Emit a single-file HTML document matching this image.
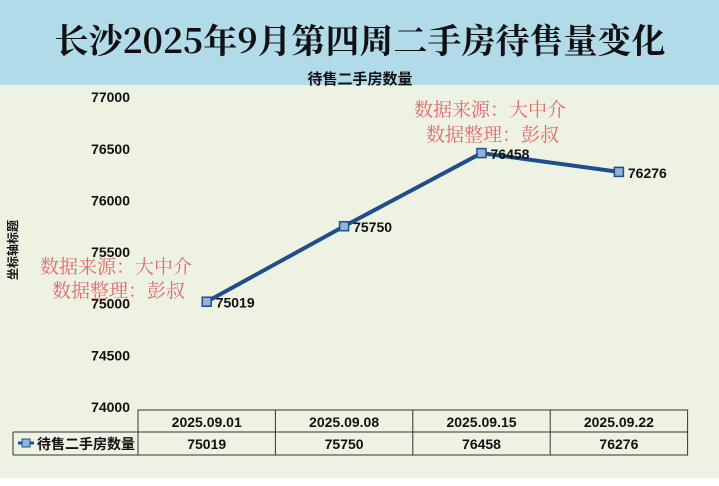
<!DOCTYPE html>
<html><head><meta charset="utf-8"><style>
body{margin:0;width:719px;height:481px;background:#fff;overflow:hidden;font-family:"Liberation Sans","Noto Sans CJK SC",sans-serif}
</style></head><body>
<svg width="719" height="481" xmlns="http://www.w3.org/2000/svg">
<rect x="0" y="0" width="719" height="478" fill="#eef2e3"/>
<rect x="0" y="0" width="719" height="85" fill="#b2dbe9"/>
<text x="360" y="53" text-anchor="middle" font-size="34" font-family="'Noto Serif CJK SC',serif" font-weight="bold" fill="#111">长沙2025年9月第四周二手房待售量变化</text>
<text x="360" y="84" text-anchor="middle" font-size="15" font-weight="bold" fill="#111">待售二手房数量</text>
<text transform="translate(17,250) rotate(-90)" text-anchor="middle" font-size="12" font-weight="bold" fill="#111">坐标轴标题</text>
<g id="yticks"></g>
<g id="table"></g>
<polyline id="line" fill="none" stroke="#1f4e8c" stroke-width="4"/>
<g id="pts"></g>
<g font-family="'Noto Serif CJK SC',serif" font-size="19" fill="#e06a6a">
<text x="40" y="273">数据来源：大中介</text>
<text x="52" y="297">数据整理：彭叔</text>
<text x="414" y="116">数据来源：大中介</text>
<text x="426" y="141">数据整理：彭叔</text>
</g>
</svg>
<script>
const categories=["2025.09.01","2025.09.08","2025.09.15","2025.09.22"];
const values=[75019,75750,76458,76276];
const yTicks=[74000,74500,75000,75500,76000,76500,77000];
const ns="http://www.w3.org/2000/svg";
const y=v=>407-(v-74000)*0.1033;
const colL=138,colW=137.4;
const x=i=>colL+colW*(i+0.5);
function mk(t,a,p){const e=document.createElementNS(ns,t);for(const k in a)e.setAttribute(k,a[k]);p.appendChild(e);return e;}
const yt=document.getElementById('yticks');
yTicks.forEach(v=>{const t=mk('text',{x:130,y:y(v)+5,'text-anchor':'end','font-size':14,'font-weight':'bold',fill:'#111'},yt);t.textContent=v;

});
document.getElementById('line').setAttribute('points',values.map((v,i)=>x(i)+','+y(v)).join(' '));
const pg=document.getElementById('pts');
values.forEach((v,i)=>{const r=mk('rect',{x:x(i)-4.5,y:y(v)-4.5,width:9,height:9,fill:'#8fb4d8',stroke:'#1f4e8c','stroke-width':1.5},pg);


const t=mk('text',{x:x(i)+9,y:y(v)+6,'font-size':14,'font-weight':'bold',fill:'#111'},pg);t.textContent=v;

});
const tb=document.getElementById('table');
const rowTop=410,rowMid=432,rowBot=455,rowRight=colL+colW*4;
mk('rect',{x:colL,y:rowTop,width:rowRight-colL,height:rowBot-rowTop,fill:'none',stroke:'#333','stroke-width':1},tb);
mk('line',{x1:13,y1:rowMid,x2:rowRight,y2:rowMid,stroke:'#333'},tb);
mk('line',{x1:13,y1:rowMid,x2:13,y2:rowBot,stroke:'#333'},tb);
mk('line',{x1:13,y1:rowBot,x2:colL,y2:rowBot,stroke:'#333'},tb);
for(let i=1;i<4;i++)mk('line',{x1:colL+colW*i,y1:rowTop,x2:colL+colW*i,y2:rowBot,stroke:'#333'},tb);
categories.forEach((c,i)=>{const t=mk('text',{x:x(i),y:427,'text-anchor':'middle','font-size':14,'font-weight':'bold',fill:'#111'},tb);t.textContent=c;


const u=mk('text',{x:x(i),y:449,'text-anchor':'middle','font-size':14,'font-weight':'bold',fill:'#111'},tb);u.textContent=values[i];

});
mk('line',{x1:18,y1:443,x2:34,y2:443,stroke:'#1f4e8c','stroke-width':3},tb);
const lk=mk('rect',{x:22,y:439,width:8,height:8,fill:'#8fb4d8',stroke:'#1f4e8c'},tb);


const lt=mk('text',{x:37,y:449,'font-size':14,'font-weight':'bold',fill:'#111'},tb);lt.textContent='待售二手房数量';


</script>
</body></html>
